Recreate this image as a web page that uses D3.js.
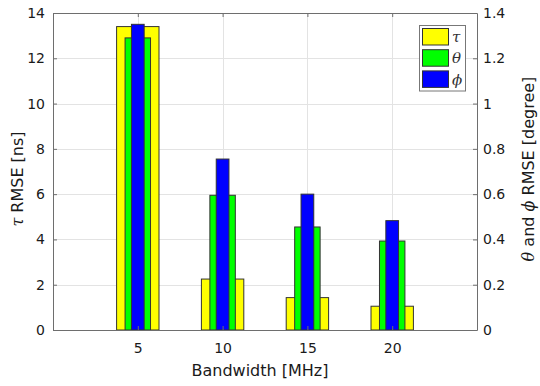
<!DOCTYPE html>
<html><head><meta charset="utf-8">
<script src="https://cdn.jsdelivr.net/npm/d3@7"></script>
<style>body{margin:0;background:#fff}svg{display:block}</style>
</head><body>
<script>
const bandwidth = [5, 10, 15, 20];
const tauRmse = [13.4, 2.25, 1.43, 1.05];
const thetaRmse = [1.29, 0.595, 0.455, 0.393];
const phiRmse = [1.35, 0.755, 0.60, 0.483];
const leftTicks = [0, 2, 4, 6, 8, 10, 12, 14];
const rightTicks = [0, 0.2, 0.4, 0.6, 0.8, 1, 1.2, 1.4];
const legendLabels = ["τ", "θ", "ϕ"];
const colors = ["#ffff00", "#00ff00", "#0000ff"];

const W = 540, H = 386;
const m = {l: 53, r: 477, t: 13, b: 330};
const svg = d3.select("body").append("svg").attr("width", W).attr("height", H);

const x = d3.scaleLinear().domain([0, 25]).range([m.l, m.r]);
const yL = d3.scaleLinear().domain([0, 14]).range([m.b, m.t]);
const yR = d3.scaleLinear().domain([0, 1.4]).range([m.b, m.t]);

// grid
const grid = svg.append("g").attr("stroke", "#e3e3e3").attr("stroke-width", 1);
leftTicks.forEach(t => grid.append("line").attr("x1", m.l).attr("x2", m.r)
  .attr("y1", Math.round(yL(t)) + 0.5).attr("y2", Math.round(yL(t)) + 0.5));
bandwidth.forEach(t => grid.append("line").attr("y1", m.t).attr("y2", m.b)
  .attr("x1", Math.round(x(t)) + 0.5).attr("x2", Math.round(x(t)) + 0.5));

// bars
const series = [
  {vals: tauRmse, y: yL, w: 2.5, c: colors[0]},
  {vals: thetaRmse, y: yR, w: 1.5, c: colors[1]},
  {vals: phiRmse, y: yR, w: 0.75, c: colors[2]}
];
series.forEach(s => {
  svg.append("g").selectAll("rect").data(bandwidth).join("rect")
    .attr("x", d => x(d - s.w / 2))
    .attr("width", d => x(d + s.w / 2) - x(d - s.w / 2))
    .attr("y", (d, i) => s.y(s.vals[i]))
    .attr("height", (d, i) => m.b - s.y(s.vals[i]))
    .attr("fill", s.c).attr("stroke", "#333").attr("stroke-width", 1);
});

// axes
const axCol = "#6e6e6e";
const tickFont = "DejaVu Sans, sans-serif";
const axL = svg.append("g").attr("transform", `translate(${m.l},0)`)
  .call(d3.axisLeft(yL).tickValues(leftTicks).tickSizeInner(-4).tickSizeOuter(0).tickPadding(8).tickFormat(d3.format("d")));
const axR = svg.append("g").attr("transform", `translate(${m.r},0)`)
  .call(d3.axisRight(yR).tickValues(rightTicks).tickSizeInner(-4).tickSizeOuter(0).tickPadding(8).tickFormat(d => d === 0 ? "0" : d === 1 ? "1" : d3.format(".1f")(d)));
const axB = svg.append("g").attr("transform", `translate(0,${m.b})`)
  .call(d3.axisBottom(x).tickValues(bandwidth).tickSizeInner(-4).tickSizeOuter(0).tickPadding(13));
const axT = svg.append("g").attr("transform", `translate(0,${m.t})`)
  .call(d3.axisTop(x).tickValues(bandwidth).tickSizeInner(-4).tickSizeOuter(0).tickFormat(""));
[axL, axR, axB, axT].forEach(a => {
  a.selectAll(".domain").attr("stroke", axCol);
  a.selectAll(".tick line").attr("stroke", axCol);
  a.selectAll("text").attr("fill", "#1a1a1a").style("font-family", tickFont).style("font-size", "14px");
});
axR.selectAll(".tick text").attr("x", 6);

// labels
const lab = "DejaVu Sans, sans-serif";
const gk = "DejaVu Serif, serif";
svg.append("text").attr("x", 260).attr("y", 376).attr("text-anchor", "middle")
  .style("font-family", lab).style("font-size", "16px").attr("fill", "#1a1a1a")
  .text("Bandwidth [MHz]");
const tl = svg.append("text").attr("transform", "translate(23,179) rotate(-90)").attr("text-anchor", "middle")
  .style("font-family", lab).style("font-size", "16px").attr("fill", "#1a1a1a");
tl.append("tspan").style("font-family", gk).style("font-style", "italic").text("τ");
tl.append("tspan").text(" RMSE [ns]");
const tr = svg.append("text").attr("transform", "translate(534,169) rotate(-90)").attr("text-anchor", "middle")
  .style("font-family", lab).style("font-size", "16px").attr("fill", "#1a1a1a");
tr.append("tspan").style("font-family", gk).style("font-style", "italic").text("θ");
tr.append("tspan").text(" and ");
tr.append("tspan").style("font-family", gk).style("font-style", "italic").text("ϕ");
tr.append("tspan").text(" RMSE [degree]");

// legend
const lg = svg.append("g");
lg.append("rect").attr("x", 419.5).attr("y", 25.5).attr("width", 46).attr("height", 65.5)
  .attr("fill", "#fff").attr("stroke", "#777");
legendLabels.forEach((t, i) => {
  lg.append("rect").attr("x", 422.5).attr("y", 28.5 + i * 21.2).attr("width", 26).attr("height", 16.5)
    .attr("fill", colors[i]).attr("stroke", "#333");
  lg.append("text").attr("x", 452).attr("y", 37 + i * 21.2).attr("dy", "0.35em")
    .style("font-family", gk).style("font-style", "italic").style("font-size", "15px").attr("fill", "#333").text(t);
});
</script>
</body></html>
